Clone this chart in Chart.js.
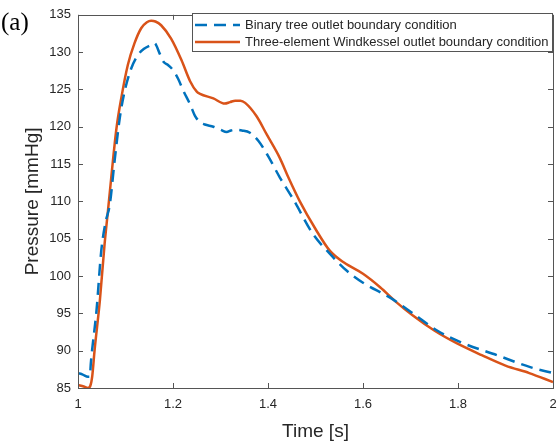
<!DOCTYPE html>
<html>
<head>
<meta charset="utf-8">
<script src="https://cdn.jsdelivr.net/npm/chart.js@4.4.1/dist/chart.umd.min.js"></script>
<style>
  html, body { margin: 0; padding: 0; background: #fff; }
  #wrap { position: relative; width: 558px; height: 448px; }
  #lbl { position: absolute; left: 1px; top: 8px; font-family: "Liberation Serif", "Times New Roman", serif; font-size: 25px; color: #000; }
</style>
</head>
<body>
<div id="wrap">
  <canvas id="c" width="558" height="448"></canvas>
  <div id="lbl">(a)</div>
</div>
<script>
// ---- Data ----
const binaryTime = [1.000, 1.010, 1.021, 1.025, 1.027, 1.039, 1.049, 1.058, 1.067, 1.077, 1.088, 1.098, 1.112, 1.126, 1.140, 1.152, 1.161, 1.172, 1.180, 1.189, 1.200, 1.211, 1.222, 1.236, 1.246, 1.257, 1.267, 1.285, 1.300, 1.313, 1.322, 1.331, 1.345, 1.362, 1.380, 1.400, 1.425, 1.453, 1.495, 1.530, 1.566, 1.600, 1.657, 1.705, 1.756, 1.811, 1.882, 1.952, 2.000];
const binaryPressure = [87.0, 86.8, 86.5, 86.5, 88.3, 95.4, 103.4, 107.2, 109.6, 115.4, 121.2, 124.7, 127.8, 129.6, 130.5, 130.9, 131.2, 129.8, 128.7, 128.3, 127.6, 126.4, 124.8, 123.0, 121.5, 120.6, 120.3, 120.0, 119.6, 119.3, 119.5, 119.6, 119.5, 119.2, 118.1, 116.1, 113.2, 110.3, 105.6, 103.0, 100.7, 99.1, 97.1, 95.0, 92.7, 91.0, 89.4, 87.8, 87.0];

const windkesselTime = [1.000, 1.012, 1.021, 1.026, 1.030, 1.035, 1.046, 1.056, 1.063, 1.070, 1.081, 1.091, 1.105, 1.119, 1.133, 1.145, 1.154, 1.163, 1.175, 1.196, 1.218, 1.236, 1.250, 1.257, 1.285, 1.309, 1.320, 1.331, 1.342, 1.352, 1.376, 1.397, 1.425, 1.443, 1.467, 1.500, 1.530, 1.560, 1.600, 1.636, 1.670, 1.705, 1.750, 1.797, 1.850, 1.900, 1.950, 2.000];
const windkesselPressure = [85.4, 85.2, 85.0, 85.3, 86.6, 90.1, 96.7, 104.3, 108.7, 113.2, 119.8, 123.8, 128.3, 131.2, 133.2, 134.0, 134.2, 134.1, 133.6, 131.8, 128.9, 126.1, 124.7, 124.4, 123.8, 123.1, 123.3, 123.5, 123.5, 123.2, 121.4, 119.0, 115.8, 113.2, 110.0, 106.3, 103.4, 101.8, 100.3, 98.5, 96.5, 94.7, 92.7, 91.0, 89.4, 88.0, 87.0, 85.8];

const seriesLabels = ["Binary tree outlet boundary condition", "Three-element Windkessel outlet boundary condition"];
const xTicks = [1, 1.2, 1.4, 1.6, 1.8, 2];
const yTicks = [85, 90, 95, 100, 105, 110, 115, 120, 125, 130, 135];
const xTitle = "Time [s]";
const yTitle = "Pressure [mmHg]";

const BLUE = "#0072BD";
const ORANGE = "#D95319";
const AXIS = "#262626";

function pts(xs, ys) { return xs.map((x, i) => ({ x: x, y: ys[i] })); }

const boxPlugin = {
  id: "boxPlugin",
  afterDraw(chart) {
    const ctx = chart.ctx;
    const a = chart.chartArea;
    const xs = chart.scales.x, ys = chart.scales.y;
    ctx.save();
    ctx.strokeStyle = "#555";
    ctx.lineWidth = 1;
    ctx.strokeRect(Math.round(a.left) + 0.5, Math.round(a.top) + 0.5, Math.round(a.right - a.left), Math.round(a.bottom - a.top));
    const tl = 5;
    ctx.beginPath();
    xTicks.forEach(v => {
      const px = Math.round(xs.getPixelForValue(v)) + 0.5;
      ctx.moveTo(px, a.bottom); ctx.lineTo(px, a.bottom - tl);
      ctx.moveTo(px, a.top); ctx.lineTo(px, a.top + tl);
    });
    yTicks.forEach(v => {
      const py = Math.round(ys.getPixelForValue(v)) + 0.5;
      ctx.moveTo(a.left, py); ctx.lineTo(a.left + tl, py);
      ctx.moveTo(a.right, py); ctx.lineTo(a.right - tl, py);
    });
    ctx.stroke();

    // Legend box (inside axes, top right)
    const lx = 192.5, ly = 13.5, lw = 360, lh = 38;
    ctx.fillStyle = "#fff";
    ctx.fillRect(lx, ly, lw, lh);
    ctx.strokeStyle = "#555";
    ctx.strokeRect(lx, ly, lw, lh);
    const ds = chart.data.datasets;
    const rows = [25, 42];
    ctx.font = "13px 'Liberation Sans', Arial, sans-serif";
    ctx.textBaseline = "middle";
    ds.forEach((d, i) => {
      ctx.beginPath();
      ctx.strokeStyle = d.borderColor;
      ctx.lineWidth = 2.5;
      ctx.setLineDash(d.borderDash || []);
      ctx.moveTo(195, rows[i]); ctx.lineTo(240, rows[i]);
      ctx.stroke();
      ctx.setLineDash([]);
      ctx.fillStyle = AXIS;
      ctx.fillText(d.label, 245, rows[i] + 0.5);
    });
    ctx.restore();
  }
};

new Chart(document.getElementById("c"), {
  type: "line",
  data: {
    datasets: [
      {
        label: seriesLabels[0],
        data: pts(binaryTime, binaryPressure),
        borderColor: BLUE,
        borderWidth: 2.5,
        borderDash: [12, 7],
        pointRadius: 0,
        cubicInterpolationMode: "monotone",
        fill: false
      },
      {
        label: seriesLabels[1],
        data: pts(windkesselTime, windkesselPressure),
        borderColor: ORANGE,
        borderWidth: 2.5,
        pointRadius: 0,
        cubicInterpolationMode: "monotone",
        fill: false
      }
    ]
  },
  options: {
    responsive: false,
    animation: false,
    devicePixelRatio: 1,
    layout: { padding: { top: 13, right: 0, left: 0, bottom: 0 } },
    plugins: { legend: { display: false }, tooltip: { enabled: false } },
    scales: {
      x: {
        type: "linear",
        min: 1, max: 2,
        afterFit(s) { s.height = 60; s.paddingRight = 5; },
        afterBuildTicks(s) { s.ticks = xTicks.map(v => ({ value: v })); },
        grid: { display: false, drawTicks: false },
        border: { display: false },
        ticks: {
          padding: 9,
          color: AXIS,
          font: { family: "'Liberation Sans', Arial, sans-serif", size: 13 },
          callback: v => String(Math.round(v * 10) / 10)
        },
        title: {
          display: true, text: xTitle, color: AXIS,
          font: { family: "'Liberation Sans', Arial, sans-serif", size: 19 },
          padding: { top: 0, bottom: 4.5 }
        }
      },
      y: {
        type: "linear",
        min: 85, max: 135,
        afterFit(s) { s.width = 78; },
        afterBuildTicks(s) { s.ticks = yTicks.map(v => ({ value: v })); },
        grid: { display: false, drawTicks: false },
        border: { display: false },
        ticks: {
          padding: 7,
          color: AXIS,
          font: { family: "'Liberation Sans', Arial, sans-serif", size: 13 }
        },
        title: {
          display: true, text: yTitle, color: AXIS,
          font: { family: "'Liberation Sans', Arial, sans-serif", size: 19 },
          padding: { top: 21.5, bottom: 0 }
        }
      }
    }
  },
  plugins: [boxPlugin]
});
</script>
</body>
</html>
